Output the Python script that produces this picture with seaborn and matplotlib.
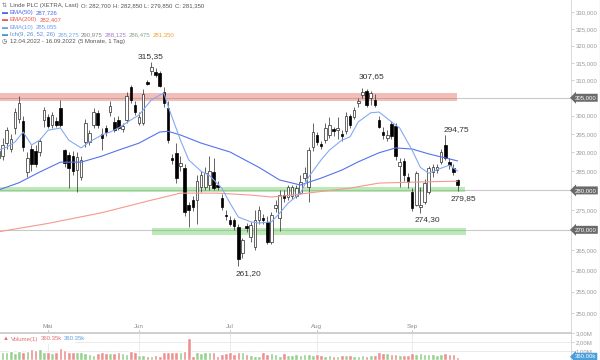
import numpy as np
import pandas as pd
import matplotlib
matplotlib.use('Agg')
import matplotlib.pyplot as plt
import matplotlib.transforms as mtransforms
from matplotlib.lines import Line2D
from matplotlib.patches import Rectangle
from matplotlib.ticker import FixedLocator, NullLocator
import seaborn as sns

sns.set_style('white')
plt.rcParams['font.family'] = ['Liberation Sans', 'DejaVu Sans']

W, H = 600, 360

# Linde PLC (XETRA) daily candles 12.04.2022 - 16.09.2022
opens = [288.5, 289.0, 292.5, 291.0, 296.5, 299.0, 298.5, 284.8, 291.0, 290.5, 290.2, 298.8,
         299.5, 297.5, 298.6, 302.0, 290.6, 289.3, 289.0, 285.3, 283.6, 292.8, 292.8, 297.4,
         300.8, 295.0, 296.6, 301.0, 298.3, 298.8, 296.3, 298.8, 308.0, 303.0,
         298.0, 298.0, 309.5, 312.5, 312.3, 312.0, 306.5, 302.0, 288.6, 289.8, 286.3, 285.8,
         276.2, 277.5, 277.5, 280.8, 281.0, 281.5, 284.7, 281.5, 278.0, 273.8,
         272.4, 272.4, 270.8, 264.2, 271.0, 268.2, 265.7, 272.4, 273.0, 272.0, 267.0, 275.5,
         273.0, 278.8, 278.3, 278.5, 278.5, 279.4, 283.3, 281.0, 291.4,
         294.7, 292.2, 293.3, 294.7, 296.3, 296.0, 295.0, 295.7, 299.9, 299.7, 303.5, 305.8,
         306.8, 305.0, 304.4, 298.8, 295.5, 294.0, 297.7, 297.2, 286.3, 287.7, 283.5,
         279.6, 276.3, 275.8, 277.0, 279.6, 284.8, 285.3, 287.5, 292.0, 287.5, 285.8, 282.7]
highs = [292.0, 294.0, 297.0, 295.0, 302.0, 305.5, 300.0, 290.0, 292.0, 292.0, 294.0, 302.5,
         300.5, 301.0, 299.5, 304.4, 291.0, 290.0, 290.5, 290.0, 289.0, 299.0, 296.0, 302.0,
         301.5, 296.5, 297.5, 304.0, 299.5, 299.8, 298.0, 306.5, 308.5, 304.0,
         301.0, 307.5, 310.0, 315.35, 313.5, 312.5, 308.0, 304.0, 289.5, 292.5, 289.0, 287.0,
         277.0, 278.5, 284.0, 285.0, 286.0, 289.0, 288.5, 282.5, 279.0, 275.0,
         273.5, 273.0, 271.5, 268.0, 271.8, 272.0, 275.0, 276.0, 274.0, 273.5, 274.5, 277.5,
         280.0, 280.0, 281.5, 281.5, 281.5, 284.0, 286.0, 291.5, 298.0,
         295.5, 293.0, 298.0, 299.5, 297.0, 299.5, 296.0, 301.0, 300.5, 302.5, 305.0, 307.65,
         307.5, 307.0, 306.0, 300.0, 297.0, 296.0, 298.5, 298.0, 288.5, 288.5, 284.5,
         280.5, 285.0, 281.0, 283.0, 286.5, 287.0, 287.0, 291.0, 294.75, 288.5, 287.0, 282.85]
lows = [287.5, 288.0, 291.0, 290.0, 295.0, 298.0, 290.5, 283.5, 285.0, 286.0, 289.0, 297.0,
        296.5, 296.5, 296.8, 296.8, 286.0, 280.7, 284.0, 279.6, 282.6, 291.5, 292.0, 296.5,
        296.6, 290.6, 294.5, 300.0, 295.5, 296.0, 295.5, 298.0, 303.5, 300.2,
        297.5, 297.5, 308.5, 311.5, 311.0, 308.0, 302.5, 292.5, 287.0, 282.0, 285.0, 273.5,
        270.8, 274.8, 271.5, 279.5, 280.0, 280.0, 280.0, 280.0, 275.0, 272.5,
        271.0, 270.0, 261.2, 263.0, 269.5, 267.0, 265.0, 271.5, 271.5, 266.5, 266.5, 274.5,
        269.6, 277.0, 277.5, 277.8, 278.0, 279.0, 282.5, 277.0, 290.5,
        292.0, 291.0, 292.5, 294.0, 294.5, 293.5, 293.0, 295.0, 296.5, 299.0, 302.5, 305.0,
        302.5, 303.0, 302.5, 296.5, 293.5, 293.0, 293.5, 288.0, 281.0, 282.5, 280.5,
        274.8, 276.0, 274.3, 276.5, 279.0, 283.5, 284.5, 287.0, 288.0, 285.5, 284.0, 279.85]
closes = [290.5, 292.0, 296.0, 293.5, 301.0, 303.5, 291.5, 288.5, 286.8, 287.0, 293.2, 301.5,
          297.2, 300.2, 297.5, 297.3, 287.2, 285.8, 285.0, 288.8, 288.0, 298.0, 295.2, 301.0,
          297.4, 293.8, 295.4, 302.6, 296.0, 296.6, 297.2, 305.5, 304.5, 301.0,
          299.7, 306.2, 309.0, 313.7, 311.6, 308.4, 303.5, 293.3, 288.0, 283.2, 287.3, 274.5,
          275.0, 275.7, 282.5, 284.0, 284.5, 285.0, 280.7, 281.0, 275.7, 273.5,
          271.5, 271.0, 262.8, 267.4, 270.5, 271.2, 272.4, 275.0, 272.4, 267.0, 273.7, 276.2,
          278.8, 278.0, 280.8, 281.0, 280.6, 282.2, 284.5, 290.6, 295.4,
          292.8, 291.8, 296.5, 297.4, 295.7, 296.5, 294.5, 300.0, 297.4, 301.6, 304.0, 306.6,
          303.0, 306.3, 303.0, 297.0, 294.8, 294.8, 294.5, 289.0, 287.5, 284.0, 282.2,
          275.6, 284.5, 276.3, 282.0, 285.8, 286.0, 286.0, 290.0, 288.5, 286.6, 284.8, 281.35]
# volume in millions
volume = [0.86, 0.94, 0.94, 1.01, 0.82, 1.01, 0.94, 1.01, 1.20, 1.09, 1.20, 0.90,
          0.90, 0.75, 0.94, 1.31, 1.12, 0.86, 0.90, 0.94, 0.86, 0.75, 0.64, 0.56, 0.82,
          0.86, 0.75, 0.75, 0.75, 0.86, 0.82, 0.67, 1.01, 0.86,
          0.56, 0.56, 0.49, 0.49, 0.52, 0.49, 0.94, 0.90, 0.86, 0.94, 0.90, 1.05, 2.43,
          0.49, 0.90, 0.82, 0.86, 0.90, 0.86, 0.49, 0.71, 0.79,
          0.86, 0.64, 0.90, 0.86, 0.67, 0.60, 0.49, 0.49, 0.90, 0.67, 0.75, 0.71, 0.49,
          0.75, 0.56, 0.60, 0.64, 0.56, 0.67, 0.71, 0.60,
          0.64, 0.52, 0.49, 0.56, 0.45, 0.49, 0.52, 0.60, 0.56, 0.49, 0.45, 0.52, 0.49,
          0.56, 0.60, 0.86, 0.79, 0.75, 0.71, 0.64, 0.56, 0.52, 0.60,
          0.82, 0.71, 0.79, 0.67, 0.71, 0.64, 0.60, 0.67, 0.75, 0.71, 0.64, 0.36]

# moving averages, read at a few candles
ema10_x = [0, 2, 4, 6, 8, 10, 12, 15, 17, 20, 22, 25, 27, 29, 32, 34, 37, 40, 41, 44, 46, 49,
           51, 54, 56, 58, 61, 63, 66, 68, 70, 73, 75, 78, 80, 83, 85, 87, 90, 92, 95, 97,
           100, 102, 104, 107, 109, 111]
ema10 = [290.6, 291.4, 292.8, 295.5, 292.0, 293.3, 296.0, 296.6, 293.3, 291.2, 292.8, 294.7,
         295.5, 296.6, 298.8, 300.2, 304.4, 306.4, 302.7, 293.3, 288.0, 285.0, 283.9, 280.6,
         276.7, 273.2, 272.0, 271.7, 272.0, 274.2, 276.7, 279.3, 283.5, 288.0, 290.6, 293.3,
         294.2, 298.3, 300.8, 301.0, 298.3, 296.6, 290.6, 286.0, 284.5, 285.8, 286.6, 285.055]
ema50_x = [0, 5, 10, 15, 20, 25, 29, 34, 39, 41, 44, 49, 56, 63, 68, 73, 78, 83, 87, 92, 96,
           100, 104, 111]
ema50 = [280.1, 282.0, 284.8, 287.4, 287.4, 289.0, 290.6, 292.5, 295.5, 295.7, 294.7, 292.5,
         290.1, 286.0, 282.7, 281.4, 283.2, 285.3, 287.5, 289.9, 291.2, 290.9, 289.6, 287.726]
ema200_x = [0, 12, 25, 37, 44, 53, 61, 66, 71, 77, 85, 92, 102, 111]
ema200 = [269.5, 271.6, 274.3, 277.5, 279.3, 279.3, 278.8, 278.3, 278.8, 279.6, 280.6, 281.9,
          282.2, 282.407]

month_labels = ['Mai', 'Jun', 'Jul', 'Aug', 'Sep']
month_pos = [12, 34, 56, 77, 100]
price_ticks = [250, 255, 260, 265, 275, 285, 290, 295, 300, 310, 315, 320, 325, 330]
marked_levels = [305, 280, 270]
vol_ticks = [1, 2, 3]
peak_values = [315.35, 307.65, 294.75, 279.85, 274.30, 261.20]

idx = np.arange(len(opens))
o = np.array(opens)
c = np.array(closes)
up = c >= o
lo = np.minimum(o, c)
hi = np.maximum(o, c)

fig = plt.figure(figsize=(6, 3.6), dpi=100)
ax = fig.add_axes([0, 28 / H, 571 / W, 332 / H])
axv = fig.add_axes([0, 0, 571 / W, 27 / H])
x0, x1 = 0.39, 138.4

ax.set_yscale('log')

# horizontal levels and zones
for lv in marked_levels:
    ax.axhline(lv, color='#c9c9c9', lw=0.8, zorder=1)
ax.fill_between([x0, 110.9], 304.15, 306.4, color='#e2665c', alpha=0.42, lw=0, zorder=2)
ax.fill_between([x0, 112.8], 279.7, 281.0, color='#63c957', alpha=0.42, lw=0, zorder=2)
ax.fill_between([37.1, 113.0], 268.7, 270.5, color='#63c957', alpha=0.42, lw=0, zorder=2)

# candles
ax.vlines(idx, lows, highs, color='#3a3a3a', lw=0.55, zorder=3)
ax.bar(idx[up], (hi - lo)[up], bottom=lo[up], width=0.62, color='white',
       edgecolor='#2a2a2a', linewidth=0.5, zorder=4)
ax.bar(idx[~up], (hi - lo)[~up], bottom=lo[~up], width=0.62, color='black',
       edgecolor='black', linewidth=0.5, zorder=4)

sns.lineplot(x=ema200_x, y=ema200, ax=ax, color='#f39a90', linewidth=0.8, zorder=5)
sns.lineplot(x=ema50_x, y=ema50, ax=ax, color='#5573ec', linewidth=0.8, zorder=5)
sns.lineplot(x=ema10_x, y=ema10, ax=ax, color='#86aaf3', linewidth=0.8, zorder=5)

label_pos = [(36.7, 316.7), (90.2, 310.9), (110.6, 296.3), (112.3, 277.9), (103.6, 272.6),
             (60.4, 259.4)]
for v, (px, py) in zip(peak_values, label_pos):
    ax.text(px, py, f'{v:.2f}'.replace('.', ','), ha='center', va='center', fontsize=6,
            color='#333333', zorder=6)

ax.set_xlim(x0, x1)
ax.set_ylim(245.7, 333.8)
ax.set_xticks([])
ax.yaxis.tick_right()
ax.yaxis.set_major_locator(FixedLocator(price_ticks))
ax.yaxis.set_minor_locator(NullLocator())
ax.set_yticklabels([f'{t:.3f}'.replace('.', ',') for t in price_ticks])
ax.tick_params(axis='y', labelsize=4.3, labelcolor='#9a9a9a', color='#bdbdbd', length=2,
               width=0.5, pad=1.5)
ax.set_xlabel('')
ax.set_ylabel('')
for s in ['top', 'left']:
    ax.spines[s].set_visible(False)
ax.spines['right'].set_color('#d9d9d9')
ax.spines['bottom'].set_color('#cfcfcf')
ax.spines['right'].set_linewidth(0.7)
ax.spines['bottom'].set_linewidth(0.7)

trans = mtransforms.blended_transform_factory(ax.transData, ax.transAxes)
for lab, pos in zip(month_labels, month_pos):
    ax.text(pos, 0.016, lab, transform=trans, ha='center', va='center', fontsize=4.5,
            color='#8a8a8a')
    ax.axvline(pos, ymin=0, ymax=0.006, color='#bbbbbb', lw=0.6)

ytrans = mtransforms.blended_transform_factory(ax.transAxes, ax.transData)
for lv in marked_levels:
    ax.text(1.006, lv, f'{lv:.3f}'.replace('.', ','), transform=ytrans, ha='left', va='center',
            fontsize=4.3, color='white', clip_on=False, zorder=7,
            bbox=dict(boxstyle='larrow,pad=0.25', fc='#6a6a6a', ec='none'))

# volume panel
vol_df = pd.DataFrame({'i': idx, 'vol': volume, 'dir': np.where(up, 'up', 'down')})
for pos in month_pos:
    axv.axvline(pos, color='#e6e6e6', lw=0.6, zorder=0)
for t in vol_ticks:
    axv.axhline(t, color='#e6e6e6', lw=0.6, zorder=0)
sns.barplot(data=vol_df, x='i', y='vol', hue='dir', palette={'up': '#96d08e', 'down': '#ef9090'},
            native_scale=True, dodge=False, width=0.88, legend=False, errorbar=None,
            saturation=1, ax=axv, zorder=2)
axv.set_xlim(x0, x1)
axv.set_ylim(0, 3.0)
axv.set_xticks([])
axv.set_xlabel('')
axv.set_ylabel('')
axv.yaxis.tick_right()
axv.set_yticks(vol_ticks)
axv.set_yticklabels([f'{t:.2f}M'.replace('.', ',') for t in vol_ticks])
axv.tick_params(axis='y', labelsize=4.3, labelcolor='#9a9a9a', color='#bdbdbd', length=2,
                width=0.5, pad=1.5)
for s in ['left', 'bottom']:
    axv.spines[s].set_visible(False)
axv.spines['right'].set_color('#d9d9d9')
axv.spines['top'].set_color('#cfcfcf')
axv.spines['right'].set_linewidth(0.7)
axv.spines['top'].set_linewidth(0.7)
vtrans = mtransforms.blended_transform_factory(axv.transAxes, axv.transData)
axv.text(1.006, volume[-1], f'{volume[-1] * 1000:.2f}k', transform=vtrans, ha='left',
         va='center', fontsize=4.3, color='white', clip_on=False, zorder=7,
         bbox=dict(boxstyle='larrow,pad=0.25', fc='#4a9fd8', ec='none'))

fig.add_artist(Line2D([599.5 / W, 599.5 / W], [0, 1], color='#8c8c8c', lw=0.8))

# header legend
renderer = fig.canvas.get_renderer()


def row(y_px, parts, x_px=10, size=4.3, gap=2.2):
    x = x_px
    for s, col in parts:
        t = fig.text(x / W, 1 - y_px / H, s, color=col, fontsize=size, ha='left', va='center')
        x += t.get_window_extent(renderer).width + gap


row(5.5, [('⇅', '#777777')], x_px=2)
row(5.5, [('Linde PLC (XETRA, Last)', '#555555'), ('O: 282,700', '#555555'),
          ('H: 282,850', '#555555'), ('L: 279,850', '#555555'), ('C: 281,350', '#555555')])
row(12.7, [('▬', '#4a68ee')], x_px=2)
row(12.7, [('EMA(50)', '#4a68ee'), ('287,726', '#4a68ee')])
row(19.9, [('▬', '#ec5a4a')], x_px=2)
row(19.9, [('EMA(200)', '#ec5a4a'), ('282,407', '#ec5a4a')])
row(27.1, [('▬', '#6f9cf0')], x_px=2)
row(27.1, [('EMA(10)', '#6f9cf0'), ('285,055', '#6f9cf0')])
row(34.3, [('▬', '#3d9bd6')], x_px=2)
row(34.3, [('Ich(9, 26, 52, 26)', '#5a8fd0'), ('285,275', '#6fb0e8'), ('290,975', '#8a8a8a'),
           ('288,125', '#a77cc8'), ('286,475', '#8aa58a'), ('281,350', '#f0a030')])
row(41.5, [('◷', '#555555')], x_px=2)
row(41.5, [('12.04.2022 - 16.09.2022', '#555555'), ('(5 Monate, 1 Tag)', '#555555')])

fig.patches.append(Rectangle((1 / W, 1 - 344 / H), 74 / W, 10 / H, transform=fig.transFigure,
                             facecolor='white', edgecolor='none', zorder=2))
row(339, [('▲', '#e07070')], x_px=3)
row(339, [('Volume(1)', '#e07070'), ('360.35k', '#e07070'), ('360.35k', '#5aa0e0')], x_px=11)

fig.savefig('out.png', dpi=100)
